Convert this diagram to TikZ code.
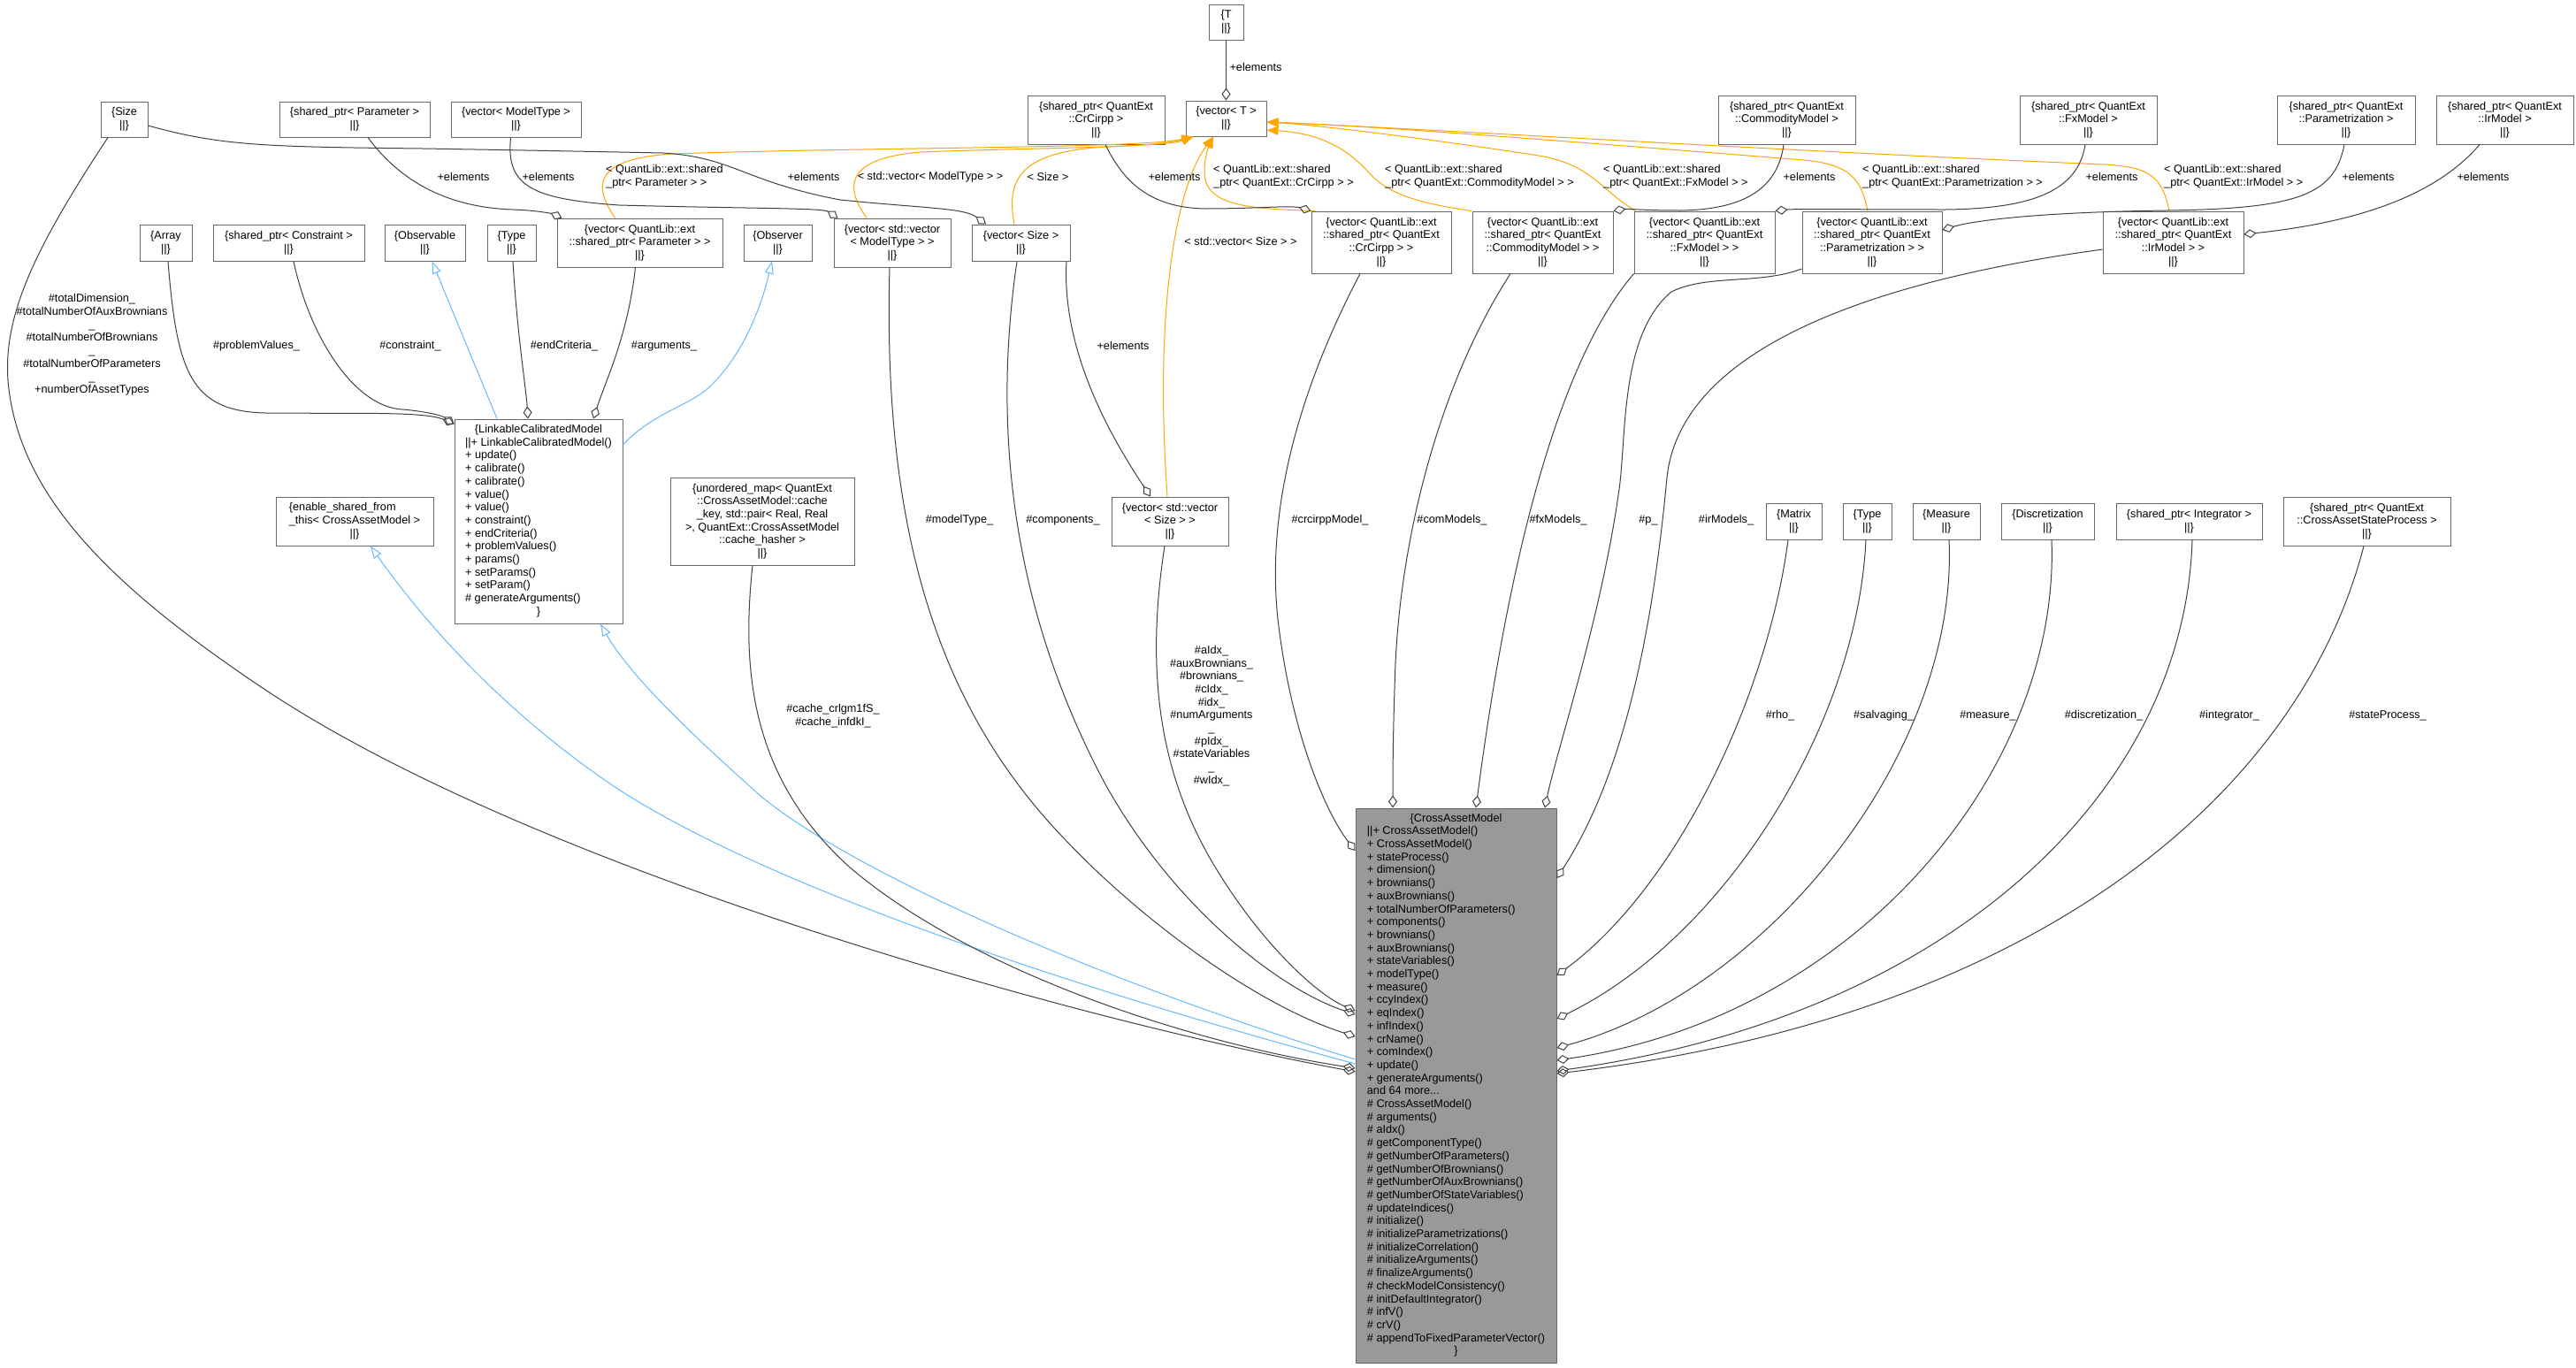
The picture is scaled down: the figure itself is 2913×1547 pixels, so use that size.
\documentclass[tikz,border=0pt]{standalone}
\usepackage{fontspec}
\setmainfont{Liberation Sans}
\usetikzlibrary{arrows.meta}

\definecolor{boxline}{HTML}{666666}
\definecolor{edgegray}{HTML}{404040}
\definecolor{inhblue}{HTML}{63B8FF}
\definecolor{tplorange}{HTML}{FFA500}
\definecolor{camfill}{HTML}{999999}
\newcommand{\dxfont}{\fontsize{12.7}{14.7}\selectfont}

\begin{document}
\begin{tikzpicture}[x=1pt, y=-1pt, every node/.style={font=\dxfont}]
\tikzstyle{classbox} = [rectangle, draw=boxline, line width=1pt, fill=white, inner sep=0pt, align=center]
\tikzstyle{mainbox} = [classbox, fill=camfill]
\tikzstyle{usage} = [edgegray, line width=1pt, -{Diamond[open, length=14pt, width=10pt]}]
\tikzstyle{inherit} = [inhblue, line width=1pt, -{Triangle[open, length=14pt, width=10pt]}]
\tikzstyle{template} = [tplorange, line width=1pt, -{Triangle[length=13pt, width=10pt]}]
\tikzstyle{elabel} = [inner sep=0pt, align=center]
\tikzstyle{tlabel} = [inner sep=0pt, align=left, anchor=west]

\useasboundingbox (0,0) rectangle (2913,1547);

% Nodes
\node (T) [classbox, minimum width=39, minimum height=40] at (1386.5,25) {\{T\\||\}};
\node (vecT) [classbox, minimum width=91, minimum height=40] at (1386.5,134) {\{vector< T >\\||\}};
\node (Size) [classbox, minimum width=53, minimum height=40] at (140.5,135) {\{Size\\||\}};
\node (spParam) [classbox, minimum width=170, minimum height=40] at (401,135) {\{shared\_ptr< Parameter >\\||\}};
\node (vecModelType) [classbox, minimum width=147, minimum height=40] at (583.5,135) {\{vector< ModelType >\\||\}};
\node (spCrCirpp) [classbox, minimum width=155, minimum height=55] at (1239.5,135.5) {\{shared\_ptr< QuantExt\\::CrCirpp >\\||\}};
\node (spCom) [classbox, minimum width=155, minimum height=55] at (2020.5,135.5) {\{shared\_ptr< QuantExt\\::CommodityModel >\\||\}};
\node (spFx) [classbox, minimum width=155, minimum height=55] at (2361.5,135.5) {\{shared\_ptr< QuantExt\\::FxModel >\\||\}};
\node (spPar) [classbox, minimum width=156, minimum height=55] at (2653,135.5) {\{shared\_ptr< QuantExt\\::Parametrization >\\||\}};
\node (spIr) [classbox, minimum width=155, minimum height=55] at (2832.5,135.5) {\{shared\_ptr< QuantExt\\::IrModel >\\||\}};

\node (Array) [classbox, minimum width=59, minimum height=41] at (187.5,274.5) {\{Array\\||\}};
\node (spConstraint) [classbox, minimum width=171, minimum height=41] at (326.5,274.5) {\{shared\_ptr< Constraint >\\||\}};
\node (Observable) [classbox, minimum width=91, minimum height=41] at (480.5,274.5) {\{Observable\\||\}};
\node (TypeA) [classbox, minimum width=55, minimum height=41] at (578.5,274.5) {\{Type\\||\}};
\node (vecParam) [classbox, minimum width=187, minimum height=55] at (723.5,274.5) {\{vector< QuantLib::ext\\::shared\_ptr< Parameter > >\\||\}};
\node (Observer) [classbox, minimum width=77, minimum height=41] at (879.5,274.5) {\{Observer\\||\}};
\node (vecVecMT) [classbox, minimum width=132, minimum height=55] at (1009,274.5) {\{vector< std::vector\\< ModelType > >\\||\}};
\node (vecSize) [classbox, minimum width=111, minimum height=41] at (1154.5,274.5) {\{vector< Size >\\||\}};
\node (vecCrCirpp) [classbox, minimum width=158, minimum height=70] at (1562,274) {\{vector< QuantLib::ext\\::shared\_ptr< QuantExt\\::CrCirpp > >\\||\}};
\node (vecCom) [classbox, minimum width=159, minimum height=70] at (1744.5,274) {\{vector< QuantLib::ext\\::shared\_ptr< QuantExt\\::CommodityModel > >\\||\}};
\node (vecFx) [classbox, minimum width=159, minimum height=70] at (1927.5,274) {\{vector< QuantLib::ext\\::shared\_ptr< QuantExt\\::FxModel > >\\||\}};
\node (vecPar) [classbox, minimum width=158, minimum height=70] at (2117,274) {\{vector< QuantLib::ext\\::shared\_ptr< QuantExt\\::Parametrization > >\\||\}};
\node (vecIr) [classbox, minimum width=159, minimum height=70] at (2457.5,274) {\{vector< QuantLib::ext\\::shared\_ptr< QuantExt\\::IrModel > >\\||\}};

\node (Linkable) [classbox, minimum width=190, minimum height=231] at (609,589.5) {\begin{tabular}{@{}l@{}}
\multicolumn{1}{@{}c@{}}{\{LinkableCalibratedModel}\\
||+ LinkableCalibratedModel()\\
+ update()\\
+ calibrate()\\
+ calibrate()\\
+ value()\\
+ value()\\
+ constraint()\\
+ endCriteria()\\
+ problemValues()\\
+ params()\\
+ setParams()\\
+ setParam()\\
\# generateArguments()\\
\multicolumn{1}{@{}c@{}}{\}}
\end{tabular}};
\node (enableShared) [classbox, minimum width=178, minimum height=55] at (401,589.5) {\begin{tabular}{@{}l@{}}
\{enable\_shared\_from\\
\_this< CrossAssetModel >\\
\multicolumn{1}{@{}c@{}}{||\}}
\end{tabular}};
\node (unorderedMap) [classbox, minimum width=208, minimum height=99] at (862,589.5) {\{unordered\_map< QuantExt\\::CrossAssetModel::cache\\\_key, std::pair< Real, Real\\>, QuantExt::CrossAssetModel\\::cache\_hasher >\\||\}};
\node (vecVecSize) [classbox, minimum width=132, minimum height=55] at (1323,589.5) {\{vector< std::vector\\< Size > >\\||\}};
\node (Matrix) [classbox, minimum width=63, minimum height=41] at (2028.5,589.5) {\{Matrix\\||\}};
\node (TypeB) [classbox, minimum width=55, minimum height=41] at (2111.5,589.5) {\{Type\\||\}};
\node (Measure) [classbox, minimum width=76, minimum height=41] at (2201,589.5) {\{Measure\\||\}};
\node (Discretization) [classbox, minimum width=105, minimum height=41] at (2315.5,589.5) {\{Discretization\\||\}};
\node (spIntegrator) [classbox, minimum width=165, minimum height=41] at (2475.5,589.5) {\{shared\_ptr< Integrator >\\||\}};
\node (spStateProcess) [classbox, minimum width=189, minimum height=55] at (2676.5,589.5) {\{shared\_ptr< QuantExt\\::CrossAssetStateProcess >\\||\}};

\node (cam) [mainbox, minimum width=227, minimum height=627] at (1646.5,1227.5) {\begin{tabular}{@{}l@{}}
\multicolumn{1}{@{}c@{}}{\{CrossAssetModel}\\
||+ CrossAssetModel()\\
+ CrossAssetModel()\\
+ stateProcess()\\
+ dimension()\\
+ brownians()\\
+ auxBrownians()\\
+ totalNumberOfParameters()\\
+ components()\\
+ brownians()\\
+ auxBrownians()\\
+ stateVariables()\\
+ modelType()\\
+ measure()\\
+ ccyIndex()\\
+ eqIndex()\\
+ infIndex()\\
+ crName()\\
+ comIndex()\\
+ update()\\
+ generateArguments()\\
and 64 more...\\
\# CrossAssetModel()\\
\# arguments()\\
\# aIdx()\\
\# getComponentType()\\
\# getNumberOfParameters()\\
\# getNumberOfBrownians()\\
\# getNumberOfAuxBrownians()\\
\# getNumberOfStateVariables()\\
\# updateIndices()\\
\# initialize()\\
\# initializeParametrizations()\\
\# initializeCorrelation()\\
\# initializeArguments()\\
\# finalizeArguments()\\
\# checkModelConsistency()\\
\# initDefaultIntegrator()\\
\# infV()\\
\# crV()\\
\# appendToFixedParameterVector()\\
\multicolumn{1}{@{}c@{}}{\}}
\end{tabular}};

% Arrows
% template instances of vector< T >
\draw [template] ([xshift=-28pt]vecParam.north) .. controls (672,212) and (668,180) .. (760,174) .. controls (1000,166) and (1290,168) .. ([xshift=9pt]vecT.south west);
\draw [template] ([xshift=-29pt]vecVecMT.north) .. controls (958,215) and (950,180) .. (1040,172) .. controls (1200,166) and (1300,168) .. ([xshift=9pt]vecT.south west);
\draw [template] ([xshift=-7.5pt]vecSize.north) .. controls (1138,205) and (1150,172) .. (1250,166) .. controls (1300,164) and (1330,162) .. ([xshift=9pt]vecT.south west);
\draw [template] ([xshift=-3pt]vecVecSize.north) .. controls (1305,350) and (1330,210) .. ([xshift=-14.5pt]vecT.south);
\draw [template] ([xshift=5pt]vecCrCirpp.north west) .. controls (1420,236) and (1362,235) .. (1362,195) .. controls (1362,178) and (1366,168) .. ([xshift=-14.5pt]vecT.south);
\draw [template] (vecCom.north west) .. controls (1590,228) and (1565,215) .. (1545,192) .. controls (1515,160) and (1480,150) .. ([yshift=-13pt]vecT.east);
\draw [template] ([xshift=2pt]vecFx.north west) .. controls (1810,215) and (1800,186) .. (1740,176) .. controls (1650,162) and (1500,142) .. ([yshift=-4pt]vecT.east);
\draw [template] ([xshift=-5pt]vecPar.north) .. controls (2105,205) and (2095,186) .. (2040,181) .. controls (1800,162) and (1550,142) .. ([yshift=-4pt]vecT.east);
\draw [template] ([xshift=-4.5pt]vecIr.north) .. controls (2445,200) and (2432,189) .. (2380,186) .. controls (2000,170) and (1600,145) .. ([yshift=-4pt]vecT.east);

% elements of the vectors
\draw [usage] (T) -- (vecT);
\draw [usage] ([yshift=-7pt]Size.east) .. controls (250,165) and (300,166) .. (478,168) .. controls (600,170) and (700,172) .. (750,173) .. controls (830,178) and (840,205) .. (950,226) .. controls (1050,236) and (1090,235) .. ([xshift=-39.5pt]vecSize.north);
\draw [usage] ([xshift=15pt]spParam.south) .. controls (460,215) and (520,235) .. (580,237) .. controls (610,238) and (625,242) .. ([xshift=6pt]vecParam.north west);
\draw [usage] ([xshift=-6pt]vecModelType.south) .. controls (572,210) and (600,225) .. (700,232) .. controls (850,236) and (930,235) .. ([xshift=5pt]vecVecMT.north west);
\draw [usage] ([xshift=10.5pt]spCrCirpp.south) .. controls (1270,205) and (1300,235) .. (1363,236) .. controls (1420,236) and (1460,232) .. (vecCrCirpp.north west);
\draw [usage] ([xshift=-3.5pt]spCom.south) .. controls (2010,215) and (1970,237) .. (1900,238) .. controls (1860,238) and (1840,236) .. (vecCom.north east);
\draw [usage] ([xshift=-3.5pt]spFx.south) .. controls (2350,215) and (2300,236) .. (2200,237) .. controls (2100,237) and (2030,236) .. (vecFx.north east);
\draw [usage] ([xshift=-2pt]spPar.south) .. controls (2640,220) and (2600,236) .. (2450,238) .. controls (2300,240) and (2230,250) .. ([yshift=14pt]vecPar.east);
\draw [usage] ([xshift=-28.5pt]spIr.south) .. controls (2760,215) and (2680,250) .. ([yshift=9pt]vecIr.east);
\draw [usage] ([xshift=-4.5pt]vecSize.south east) .. controls (1200,400) and (1260,500) .. ([xshift=-22pt]vecVecSize.north);

% members of LinkableCalibratedModel
\draw [usage] ([xshift=2.5pt]Array.south) .. controls (200,420) and (215,465) .. (300,467) .. controls (400,468) and (480,465) .. ([yshift=-6pt]Linkable.north west);
\draw [usage] ([xshift=5.5pt]spConstraint.south) .. controls (350,380) and (400,460) .. (455,463) .. controls (480,465) and (500,470) .. ([yshift=-6pt]Linkable.north west);
\draw [usage] ([xshift=1.5pt]TypeA.south) .. controls (585,380) and (595,440) .. ([xshift=-12pt]Linkable.north);
\draw [usage] ([xshift=-5pt]vecParam.south) .. controls (710,380) and (685,430) .. ([xshift=62pt]Linkable.north);

% inheritance
\draw [inherit] ([xshift=-47pt]Linkable.north) -- ([xshift=8pt]Observable.south);
\draw [inherit] ([yshift=86.5pt]Linkable.east) .. controls (740,465) and (780,460) .. (805,435) .. controls (840,400) and (860,350) .. ([xshift=-6.5pt]Observer.south);
\draw [inherit] ([yshift=24.5pt]cam.west) .. controls (1150,1100) and (850,990) .. (700,893) .. controls (560,800) and (470,690) .. ([xshift=18pt]enableShared.south);
\draw [inherit] ([yshift=29.5pt]cam.west) .. controls (1200,1095) and (950,975) .. (860,900) .. controls (770,820) and (710,760) .. ([xshift=70pt]Linkable.south);

% members of CrossAssetModel
\draw [usage] ([xshift=-18.5pt]Size.south) .. controls (40,280) and (0,360) .. (10,440) .. controls (25,560) and (120,660) .. (300,780) .. controls (600,980) and (1200,1150) .. ([yshift=15.5pt]cam.west);
\draw [usage] ([xshift=-11pt]unorderedMap.south) .. controls (838,760) and (850,880) .. (960,980) .. controls (1100,1100) and (1350,1180) .. ([yshift=19.5pt]cam.west);
\draw [usage] ([xshift=-3pt]vecVecMT.south) .. controls (998,600) and (1060,800) .. (1205,950) .. controls (1300,1050) and (1430,1140) .. ([yshift=55.5pt]cam.west);
\draw [usage] ([xshift=-4.5pt]vecSize.south) .. controls (1120,500) and (1150,700) .. (1250,887) .. controls (1330,1030) and (1450,1120) .. ([yshift=80.5pt]cam.west);
\draw [usage] ([xshift=-6pt]vecVecSize.south) .. controls (1295,760) and (1310,880) .. (1380,990) .. controls (1430,1070) and (1490,1125) .. ([yshift=84.5pt]cam.west);
\draw [usage] ([xshift=-24pt]vecCrCirpp.south) .. controls (1480,420) and (1430,560) .. (1445,700) .. controls (1460,830) and (1500,920) .. ([yshift=265.5pt]cam.west);
\draw [usage] ([xshift=-36.5pt]vecCom.south) .. controls (1630,430) and (1585,600) .. (1578,750) .. controls (1575,830) and (1575,880) .. ([xshift=-71.5pt]cam.north);
\draw [usage] (vecFx.south west) .. controls (1770,400) and (1710,600) .. ([xshift=22.5pt]cam.north);
\draw [usage] ([yshift=-30pt]vecPar.west) .. controls (1990,322) and (1930,310) .. (1890,330) .. controls (1830,380) and (1840,500) .. (1830,560) .. controls (1810,700) and (1760,850) .. ([xshift=100.5pt]cam.north);
\draw [usage] ([yshift=-8pt]vecIr.west) .. controls (2100,320) and (1900,400) .. (1885,540) .. controls (1870,700) and (1840,870) .. ([yshift=234.5pt]cam.east);
\draw [usage] ([xshift=-6.5pt]Matrix.south) .. controls (2000,780) and (1900,1000) .. ([yshift=124.5pt]cam.east);
\draw [usage] ([xshift=-1.5pt]TypeB.south) .. controls (2100,820) and (1950,1060) .. ([yshift=75.5pt]cam.east);
\draw [usage] ([xshift=3pt]Measure.south) .. controls (2215,850) and (2000,1120) .. ([yshift=42.5pt]cam.east);
\draw [usage] ([xshift=4.5pt]Discretization.south) .. controls (2330,870) and (2100,1150) .. ([yshift=28.5pt]cam.east);
\draw [usage] ([xshift=3.5pt]spIntegrator.south) .. controls (2470,900) and (2200,1150) .. ([yshift=16.5pt]cam.east);
\draw [usage] ([xshift=-3.5pt]spStateProcess.south) .. controls (2600,900) and (2300,1150) .. ([yshift=13.5pt]cam.east);

% Labels
\node (lbT) [elabel] at (1420,76) {+elements};
\node (lbSize) [elabel] at (920,200) {+elements};
\node (lbParam) [elabel] at (524,200) {+elements};
\node (lbModelType) [elabel] at (620,200) {+elements};
\node (lbCrCirpp) [elabel] at (1328,200) {+elements};
\node (lbCom) [elabel] at (2046,200) {+elements};
\node (lbFx) [elabel] at (2388,200) {+elements};
\node (lbPar) [elabel] at (2678,200) {+elements};
\node (lbIr) [elabel] at (2808,200) {+elements};
\node (lbVecSize) [elabel] at (1270,391) {+elements};

\node (tlParam) [tlabel] at (685,200) {< QuantLib::ext::shared\\\_ptr< Parameter > >};
\node (tlVecMT) [elabel] at (1052,200) {< std::vector< ModelType > >};
\node (tlSize) [elabel] at (1185,200) {< Size >};
\node (tlVecSize) [elabel] at (1403,273) {< std::vector< Size > >};
\node (tlCrCirpp) [tlabel] at (1372,200) {< QuantLib::ext::shared\\\_ptr< QuantExt::CrCirpp > >};
\node (tlCom) [tlabel] at (1566,200) {< QuantLib::ext::shared\\\_ptr< QuantExt::CommodityModel > >};
\node (tlFx) [tlabel] at (1813,200) {< QuantLib::ext::shared\\\_ptr< QuantExt::FxModel > >};
\node (tlPar) [tlabel] at (2106,200) {< QuantLib::ext::shared\\\_ptr< QuantExt::Parametrization > >};
\node (tlIr) [tlabel] at (2447,200) {< QuantLib::ext::shared\\\_ptr< QuantExt::IrModel > >};

\node (mlProblem) [elabel] at (290,391) {\#problemValues\_};
\node (mlConstraint) [elabel] at (464,391) {\#constraint\_};
\node (mlEnd) [elabel] at (638,391) {\#endCriteria\_};
\node (mlArgs) [elabel] at (751,391) {\#arguments\_};

\node (mlSize) [elabel] at (104,390) {\#totalDimension\_\\\#totalNumberOfAuxBrownians\\\_\\\#totalNumberOfBrownians\\\_\\\#totalNumberOfParameters\\\_\\+numberOfAssetTypes};
\node (mlCache) [elabel] at (942,809.5) {\#cache\_crlgm1fS\_\\\#cache\_infdkI\_};
\node (mlIdx) [elabel] at (1370,809.5) {\#aIdx\_\\\#auxBrownians\_\\\#brownians\_\\\#cIdx\_\\\#idx\_\\\#numArguments\\\_\\\#pIdx\_\\\#stateVariables\\\_\\\#wIdx\_};
\node (mlModelType) [elabel] at (1085,588) {\#modelType\_};
\node (mlComponents) [elabel] at (1202,588) {\#components\_};
\node (mlCrCirpp) [elabel] at (1504,588) {\#crcirppModel\_};
\node (mlCom) [elabel] at (1642,588) {\#comModels\_};
\node (mlFx) [elabel] at (1762,588) {\#fxModels\_};
\node (mlP) [elabel] at (1864,588) {\#p\_};
\node (mlIr) [elabel] at (1952,588) {\#irModels\_};
\node (mlRho) [elabel] at (2013,809) {\#rho\_};
\node (mlSalv) [elabel] at (2130,809) {\#salvaging\_};
\node (mlMeasure) [elabel] at (2248,809) {\#measure\_};
\node (mlDisc) [elabel] at (2379,809) {\#discretization\_};
\node (mlInt) [elabel] at (2521,809) {\#integrator\_};
\node (mlState) [elabel] at (2700,809) {\#stateProcess\_};
\end{tikzpicture}
\end{document}
